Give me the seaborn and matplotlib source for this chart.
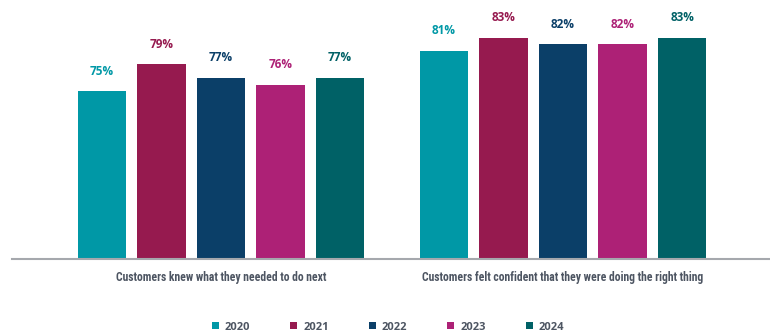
import matplotlib
matplotlib.use("Agg")
import matplotlib.pyplot as plt
from matplotlib import font_manager
import seaborn as sns
import pandas as pd

# Survey results by year
categories = [
    "Customers knew what they needed to do next",
    "Customers felt confident that they were doing the right thing",
]
years = ["2020", "2021", "2022", "2023", "2024"]
knew_next = [75, 79, 77, 76, 77]
felt_confident = [81, 83, 82, 82, 83]
palette = ["#0098a6", "#961a4f", "#0b3f68", "#ad2176", "#006166"]

rows = []
for cat, vals in zip(categories, [knew_next, felt_confident]):
    for yr, v in zip(years, vals):
        rows.append({"category": cat, "year": yr, "value": v})
df = pd.DataFrame(rows)

sns.set_theme(style="white")

# Pick a narrow face for the category text
installed = {f.name for f in font_manager.fontManager.ttflist}
narrow_stretch = "normal"
if "Liberation Sans Narrow" in installed:
    narrow = ["Liberation Sans Narrow", "DejaVu Sans"]
elif "Roboto Condensed" in installed:
    narrow = ["Roboto Condensed", "DejaVu Sans"]
elif "DejaVu Sans Condensed" in installed:
    narrow = ["DejaVu Sans Condensed", "DejaVu Sans"]
else:
    probe = font_manager.FontProperties(family="DejaVu Sans", stretch="condensed",
                                        weight="bold")
    if "Condensed" in font_manager.findfont(probe):
        narrow = ["DejaVu Sans"]
        narrow_stretch = "condensed"
    else:
        narrow = ["Roboto", "DejaVu Sans"]
label_font = ["Open Sans", "DejaVu Sans"]
text_grey = "#4d5562"

fig = plt.figure(figsize=(7.7, 3.33), dpi=100)
ax = fig.add_axes([12 / 770, 74 / 333, 758 / 770, 259 / 333])

sns.barplot(data=df, x="category", y="value", hue="year", hue_order=years,
            palette=palette, width=0.87, gap=0.19, saturation=1,
            errorbar=None, linewidth=0, ax=ax)

ax.set_ylim(50, 88.6)
ax.set_xlim(-0.611, 1.605)
ax.set_xlabel("")
ax.set_ylabel("")
ax.set_yticks([])
for s in ["top", "left", "right"]:
    ax.spines[s].set_visible(False)
ax.spines["bottom"].set_color("#a5a8ad")
ax.spines["bottom"].set_linewidth(1.5)
ax.tick_params(axis="x", length=0, pad=8.5)
for lab in ax.get_xticklabels():
    lab.set_fontfamily(narrow)
    lab.set_fontstretch(narrow_stretch)
    lab.set_fontweight("bold")
    lab.set_fontsize(8.4)
    lab.set_color(text_grey)

# Value labels above each bar, coloured like the bar
for container, color in zip(ax.containers, palette):
    for bar in container:
        h = bar.get_height()
        ax.annotate(f"{h:.0f}%", (bar.get_x() + bar.get_width() / 2, h),
                    xytext=(0, 14.5), textcoords="offset points",
                    ha="center", va="center", fontsize=8.5, fontweight="bold",
                    color=color, family=label_font)

handles, labels = ax.get_legend_handles_labels()
ax.get_legend().remove()
leg = fig.legend(handles, labels, loc="center", bbox_to_anchor=(0.504, 0.018),
                 ncol=5, frameon=False, handlelength=0.63, handleheight=0.63,
                 handletextpad=0.54, columnspacing=3.6,
                 prop={"family": label_font, "weight": "bold", "size": 8})
for t in leg.get_texts():
    t.set_color(text_grey)

fig.savefig("out.png", dpi=100)
